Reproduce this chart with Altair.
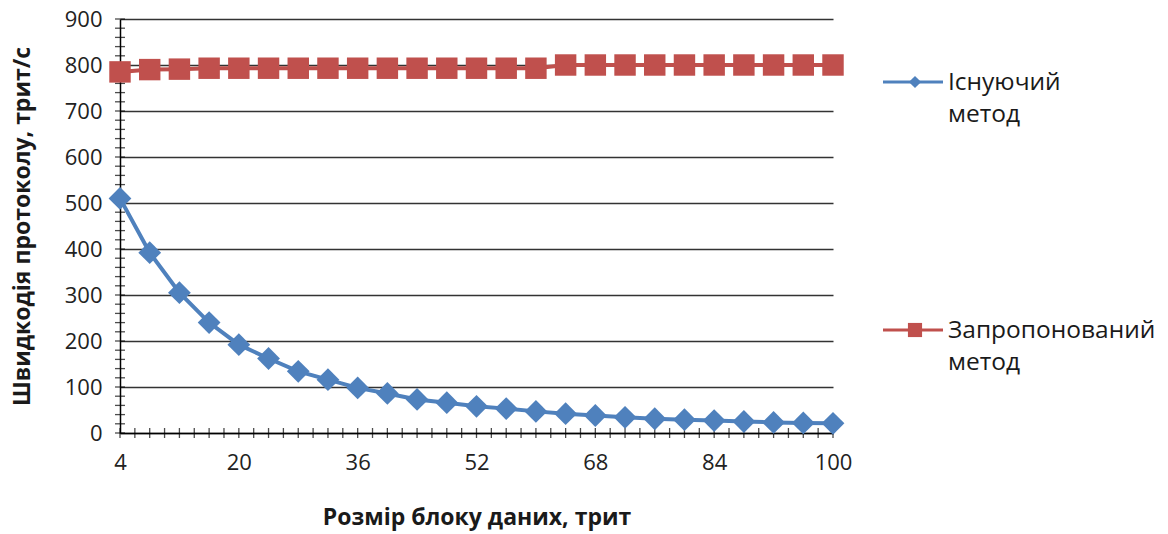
import altair as alt
import pandas as pd

# Block size (trits) and protocol throughput (trits/s) for the two methods
block_size = list(range(4, 101, 4))
existing_method = [510, 392, 305, 240, 192, 162, 134, 116, 98, 86, 73, 66, 58,
                   53, 47, 42, 38, 34, 31, 29, 27, 25, 23, 22, 21]
proposed_method = [785, 790, 791, 793, 793, 793, 793, 793, 793, 793, 793, 793,
                   793, 793, 793, 800, 800, 800, 800, 800, 800, 800, 800, 800, 800]

series_names = ["Існуючий метод", "Запропонований метод"]
series_colors = ["#4F81BD", "#C0504D"]

x_labels = [4, 20, 36, 52, 68, 84, 100]
y_labels = list(range(0, 901, 100))
x_minor = list(range(4, 101, 2))
y_minor = list(range(0, 901, 20))

W, H = 713, 414
FONT = "Open Sans"

df = pd.DataFrame({
    "size": block_size * 2,
    "speed": existing_method + proposed_method,
    "series": [series_names[0]] * len(block_size) + [series_names[1]] * len(block_size),
})

x_scale = alt.Scale(domain=[4, 100], nice=False, zero=False)
y_scale = alt.Scale(domain=[0, 900], nice=False)

axis_style = dict(
    labelFont=FONT, labelFontSize=22, labelColor="#222", labelFlush=False,
    titleFont=FONT, titleFontSize=23, titleFontWeight="bold", titleColor="#1a1a1a",
    ticks=False, domainColor="#000", domainWidth=1.5,
)

x_enc = alt.X("size:Q", scale=x_scale,
              axis=alt.Axis(values=x_labels, title="Розмір блоку даних, трит",
                            grid=False, labelPadding=19, titlePadding=33, **axis_style))
y_enc = alt.Y("speed:Q", scale=y_scale,
              axis=alt.Axis(values=y_labels, title="Швидкодія протоколу, трит/с",
                            grid=True, gridColor="#333", gridWidth=1.4,
                            labelPadding=18, titlePadding=30, **axis_style))

color = alt.Color("series:N", scale=alt.Scale(domain=series_names, range=series_colors),
                  legend=None)

# Minor tick marks crossing both axes
xt = alt.Chart(pd.DataFrame({"size": x_minor})).mark_tick(
    color="#000", size=10, thickness=1.3, orient="vertical"
).encode(x=alt.X("size:Q", scale=x_scale), y=alt.value(H))

yt = alt.Chart(pd.DataFrame({"speed": y_minor})).mark_tick(
    color="#000", size=10, thickness=1.3, orient="horizontal"
).encode(y=alt.Y("speed:Q", scale=y_scale), x=alt.value(0))

base = alt.Chart(df)
lines = base.mark_line(strokeWidth=4).encode(x=x_enc, y=y_enc, color=color)

blue_pts = base.transform_filter(alt.datum.series == series_names[0]).mark_point(
    shape="diamond", filled=True, size=520, opacity=1
).encode(x="size:Q", y="speed:Q", color=color)

red_pts = base.transform_filter(alt.datum.series == series_names[1]).mark_point(
    shape="square", filled=True, size=460, opacity=1
).encode(x="size:Q", y="speed:Q", color=color)

# Legend drawn to the right of the plot
leg = alt.Chart(pd.DataFrame({"k": [0]}))


def legend_entry(row_y, col, shape, msize, text_lines):
    line = leg.mark_rule(color=col, strokeWidth=3).encode(
        x=alt.value(763), x2=alt.value(823), y=alt.value(row_y))
    sym = leg.mark_point(shape=shape, filled=True, size=msize, color=col, opacity=1).encode(
        x=alt.value(795), y=alt.value(row_y))
    txt = leg.mark_text(text=text_lines, align="left", baseline="alphabetic",
                        fontSize=24.5, font=FONT, color="#1a1a1a", lineHeight=32).encode(
        x=alt.value(828), y=alt.value(row_y + 8))
    return [line, sym, txt]


legend_layers = (legend_entry(63, series_colors[0], "diamond", 150, ["Існуючий", "метод"])
                 + legend_entry(311, series_colors[1], "square", 200, ["Запропонований", "метод"]))

chart = alt.layer(lines, xt, yt, blue_pts, red_pts, *legend_layers).properties(
    width=W, height=H,
    autosize=alt.AutoSizeParams(type="none"),
    padding={"left": 120, "top": 19, "right": 335, "bottom": 101},
).configure_view(stroke=None)

chart.save("out.html", embed_options={"renderer": "svg", "actions": False})
